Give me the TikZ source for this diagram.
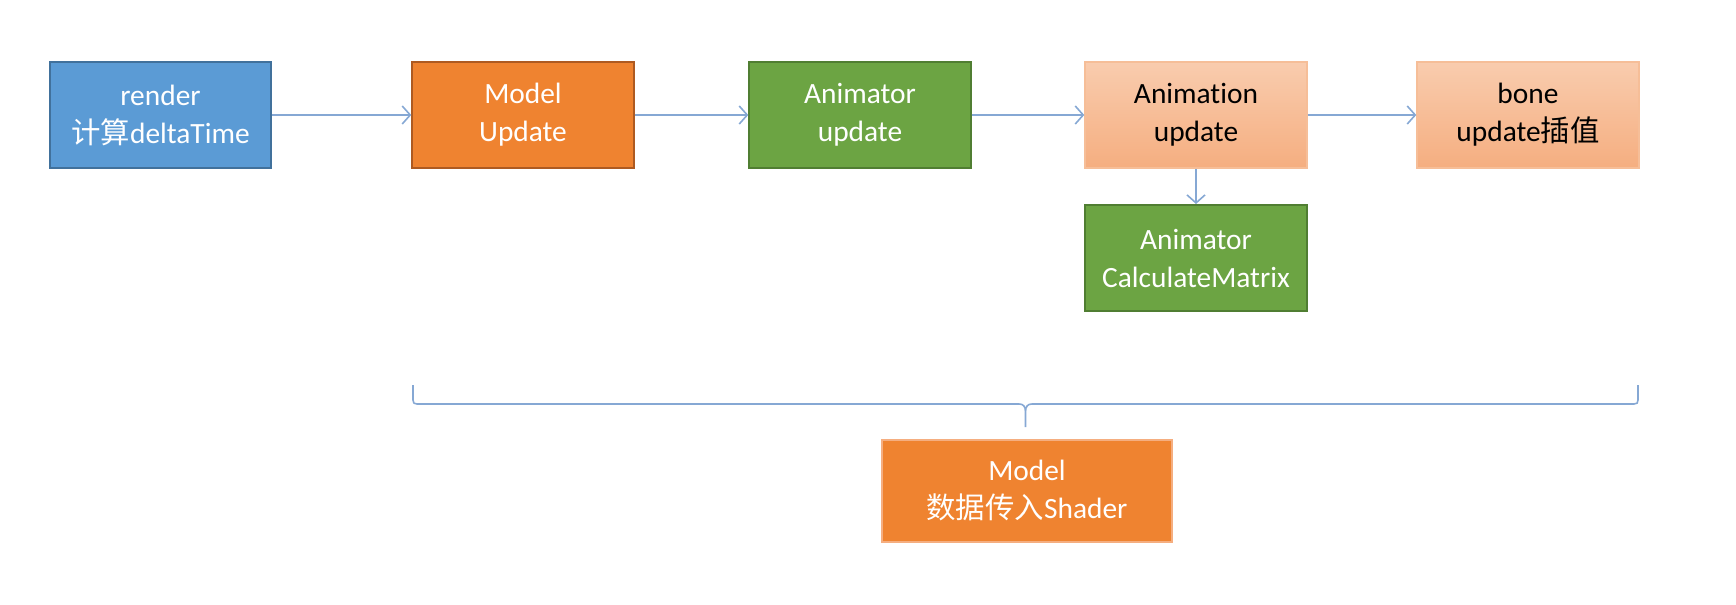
\documentclass[tikz,border=0pt]{standalone}
\usepackage{fontspec}
\setmainfont{Carlito}[Ligatures=NoCommon]
\newfontfamily\cjk{Noto Sans CJK SC}
\usetikzlibrary{arrows.meta}
\definecolor{renderblue}{HTML}{5B9BD5}
\definecolor{renderline}{HTML}{41719C}
\definecolor{modelorange}{HTML}{EF8330}
\definecolor{modelline}{HTML}{AE5A21}
\definecolor{animgreen}{HTML}{6CA443}
\definecolor{animline}{HTML}{507E32}
\definecolor{peachtop}{HTML}{F9CCAE}
\definecolor{peachbot}{HTML}{F5AE80}
\definecolor{peachline}{HTML}{F6BE98}
\definecolor{linkblue}{HTML}{86A8D4}

\begin{document}
\begin{tikzpicture}[x=0.5pt, y=-0.5pt,
  every node/.style={inner sep=0pt, align=center, text=white, line width=1pt,
    minimum width=110.7pt, minimum height=53pt, font=\fontsize{14.7}{19}\selectfont},
  bluebox/.style={fill=renderblue, draw=renderline},
  orangebox/.style={fill=modelorange, draw=modelline},
  greenbox/.style={fill=animgreen, draw=animline},
  peachbox/.style={top color=peachtop, bottom color=peachbot, draw=peachline, text=black},
  link/.style={draw=linkblue, line width=0.8pt, -{Straight Barb[length=4pt,width=9pt]}},
  braceline/.style={draw=linkblue, line width=0.8pt, line join=round}]
\useasboundingbox (0,0) rectangle (1736,605);
% top row
\node[bluebox] (render) at (160.5,115) {render\\{\cjk 计算}deltaTime};
\node[orangebox] (model) at (523,115) {Model\\Update};
\node[greenbox] (animator) at (860,115) {Animator\\update};
\node[peachbox] (animation) at (1196,115) {Animation\\update};
\node[peachbox] (bone) at (1528,115) {bone\\update{\cjk 插值}};
\node[greenbox] (calc) at (1196,258) {Animator\\CalculateMatrix};
\node[fill=modelorange, draw=peachbot, minimum width=145pt, minimum height=51pt] (shader) at (1027,490.5) {Model\\{\cjk 数据传入}Shader};
% arrows
\draw[link] (render) -- (model);
\draw[link] (model) -- (animator);
\draw[link] (animator) -- (animation);
\draw[link] (animation) -- (bone);
\draw[link] (animation) -- (calc);
% brace
\coordinate (braceL) at (413,385);
\coordinate (braceTip) at (1025.5,427);
\coordinate (braceR) at (1638,385);
\draw[braceline] (braceL) -- (413,400) .. controls (413,403) and (414,404) .. (417,404)
  -- (1019,404) .. controls (1023,404) and (1025.5,406) .. (1025.5,412) -- (braceTip)
  (1025.5,412) .. controls (1025.5,406) and (1028,404) .. (1032,404)
  -- (1634,404) .. controls (1637,404) and (1638,403) .. (1638,400) -- (braceR);
\end{tikzpicture}
\end{document}
